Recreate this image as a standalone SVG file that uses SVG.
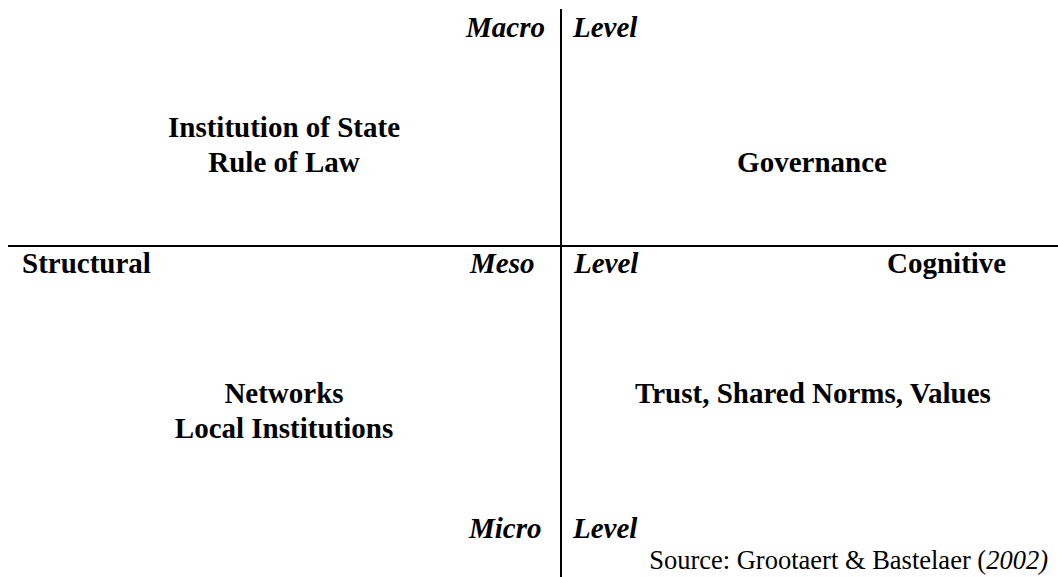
<svg xmlns="http://www.w3.org/2000/svg" width="1058" height="577" viewBox="0 0 1058 577">
<style>
text{font-family:"Liberation Serif","Times New Roman",serif;font-size:29px;fill:#000}
.b{font-weight:bold}
.bi{font-weight:bold;font-style:italic}
.m{text-anchor:middle}
.e{text-anchor:end}
.src{font-size:26.5px}
line{stroke:#000;stroke-width:2}
</style>
<rect width="1058" height="577" fill="#fff"/>
<g id="connectors">
<line x1="561" y1="9" x2="561" y2="577"/>
<line x1="8" y1="246" x2="1058" y2="246"/>
</g>
<g id="macro"><text class="bi" x="466" y="37">Macro</text><text class="bi" x="573" y="37">Level</text></g>
<g id="state"><text class="b m" x="284" y="137">Institution of State</text><text class="b m" x="284" y="172">Rule of Law</text></g>
<g id="governance"><text class="b m" x="812" y="172">Governance</text></g>
<g id="structural"><text class="b" x="22" y="273">Structural</text></g>
<g id="meso"><text class="bi" x="470" y="273">Meso</text><text class="bi" x="574" y="273">Level</text></g>
<g id="cognitive"><text class="b" x="887" y="273">Cognitive</text></g>
<g id="networks"><text class="b m" x="284" y="403">Networks</text><text class="b m" x="284" y="438">Local Institutions</text></g>
<g id="trust"><text class="b m" x="813" y="403">Trust, Shared Norms, Values</text></g>
<g id="micro"><text class="bi" x="469" y="538">Micro</text><text class="bi" x="573" y="538">Level</text></g>
<g id="source"><text class="src e" x="1048" y="569">Source: Grootaert &amp; Bastelaer (<tspan font-style="italic">2002)</tspan></text></g>
</svg>
